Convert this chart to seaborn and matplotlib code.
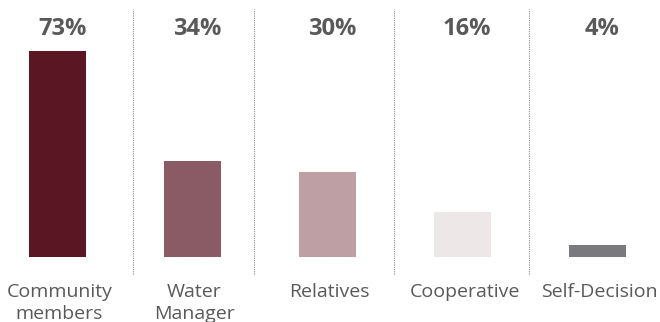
import matplotlib
matplotlib.use("Agg")
import matplotlib.pyplot as plt
import seaborn as sns
import pandas as pd

categories = ["Community\nmembers", "Water\nManager", "Relatives", "Cooperative", "Self-Decision"]
shares = [73, 34, 30, 16, 4]
bar_colors = ["#5A1622", "#8A5B64", "#BE9FA4", "#EEE7E8", "#7A7A7E"]
separator_positions = [0.56, 1.455, 2.49, 3.49]

sns.set_theme(style="white")
plt.rcParams["font.family"] = ["Open Sans", "DejaVu Sans"]

df = pd.DataFrame({"source": categories, "share": shares})

fig = plt.figure(figsize=(6.6, 3.22), dpi=100)
ax = fig.add_axes([0, 0, 1, 1])

sns.barplot(data=df, x="source", y="share", hue="source",
            palette=bar_colors, width=0.42, legend=False,
            saturation=1, linewidth=0, ax=ax)

ax.set_xlim(-0.426, 4.463)
ax.set_ylim(-23.3, 91.3)

# dotted dividers between the categories
for xs in separator_positions:
    ax.plot([xs, xs], [-6.2, 88.1], linestyle=(0, (1, 1)), color="#8C8C8C",
            linewidth=0.8)

# value labels in a row above the bars
for i, v in enumerate(shares):
    ax.text(i + 0.035, 81, f"{v}%", ha="center", va="center",
            fontsize=17, fontweight="bold", color="#595959")

# category names below the bars
for i, name in enumerate(categories):
    ax.text(i + 0.015, -9.3, name, ha="center", va="top", fontsize=14,
            color="#595959", linespacing=1.3)

ax.axis("off")
fig.savefig("out.png", dpi=100)
